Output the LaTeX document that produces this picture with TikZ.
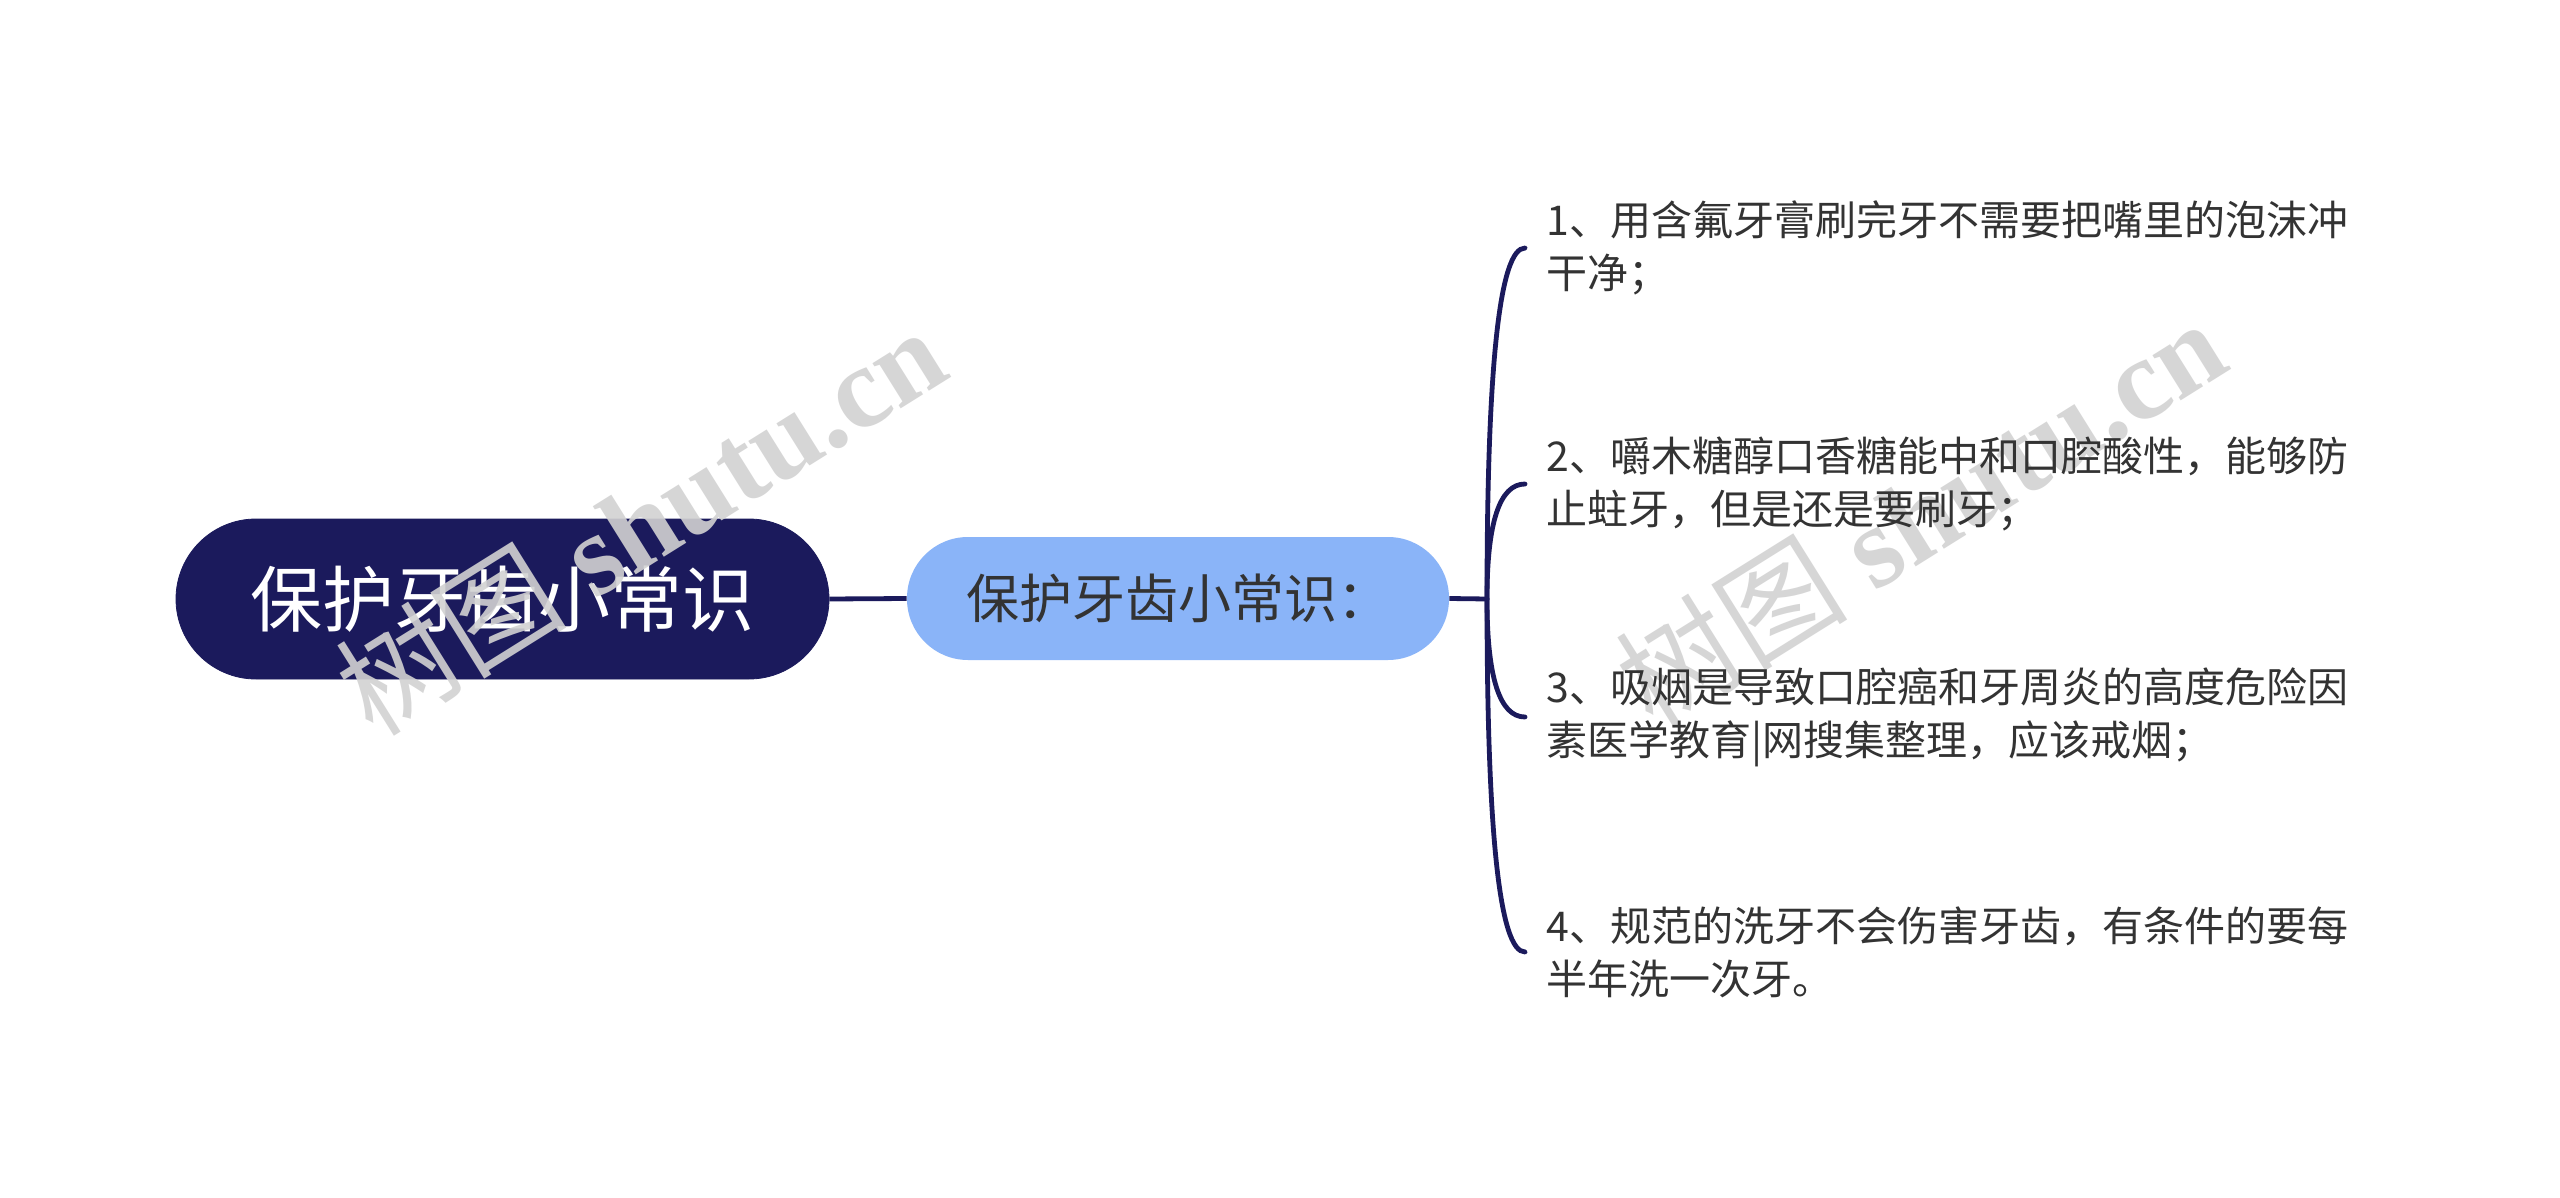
\documentclass[tikz,border=0pt]{standalone}
\usepackage{fontspec}
\setmainfont{Liberation Serif}
\newfontfamily\cjk{Noto Sans CJK SC}
\usetikzlibrary{calc}
\definecolor{navy}{HTML}{1B1A5C}
\definecolor{lblue}{HTML}{8AB4F8}
\definecolor{txt}{HTML}{333333}
\definecolor{wm}{HTML}{D2D2D2}
\tikzset{
  rootbox/.style={fill=navy, draw=navy, rounded corners=40pt, minimum width=326.5pt, minimum height=80pt,
    inner sep=0pt, text=white, font=\cjk\fontsize{36}{40}\selectfont},
  subbox/.style={fill=lblue, rounded corners=30.5pt, minimum width=271pt, minimum height=61.5pt,
    inner sep=0pt, text=txt, font=\cjk\fontsize{26.5}{30}\selectfont},
  itembox/.style={anchor=west, align=left, text=txt, inner xsep=10.5pt, inner ysep=0pt,
    font=\cjk\fontsize{20.5}{26.5}\selectfont},
  conn/.style={draw=navy, line width=2.4pt},
  wmark/.style={text=wm, opacity=0.9, font=\fontsize{58}{60}\selectfont, inner sep=0pt}
}
\begin{document}
\begin{tikzpicture}[x=0.5pt,y=-0.5pt]
\useasboundingbox (0,0) rectangle (2560,1198);
\fill[white] (0,0) rectangle (2560,1198);

\node[rootbox] (root) at (502.5,599) {保护牙齿小常识};
\node[subbox] (sub) at (1178,598.5) {保护牙齿小常识：};
\coordinate (j) at (1487,599);

\node[wmark, rotate=32] (w1) at (640,520) {{\cjk 树图} \textbf{shutu.cn}};
\node[wmark, rotate=32] (w2) at (1920,512) {{\cjk 树图} \textbf{shutu.cn}};

\node[itembox] (i1) at (1525,248) {1、用含氟牙膏刷完牙不需要把嘴里的泡沫冲\\干净；};
\node[itembox] (i2) at (1525,484) {2、嚼木糖醇口香糖能中和口腔酸性，能够防\\止蛀牙，但是还是要刷牙；};
\node[itembox] (i3) at (1525,717) {3、吸烟是导致口腔癌和牙周炎的高度危险因\\素医学教育|网搜集整理，应该戒烟；};
\node[itembox] (i4) at (1525,952) {4、规范的洗牙不会伤害牙齿，有条件的要每\\半年洗一次牙。};

\draw[conn] (root.east) -- (sub.west);
\draw[conn] (sub.east) -- (j);
\foreach \n in {i1,i2,i3,i4}{
  \draw[conn, line cap=round] (j) .. controls ($(j)!0.6667!(j |- \n.west)$) and ($(\n.west)!0.6667!(j |- \n.west)$) .. (\n.west);
}
\end{tikzpicture}
\end{document}
